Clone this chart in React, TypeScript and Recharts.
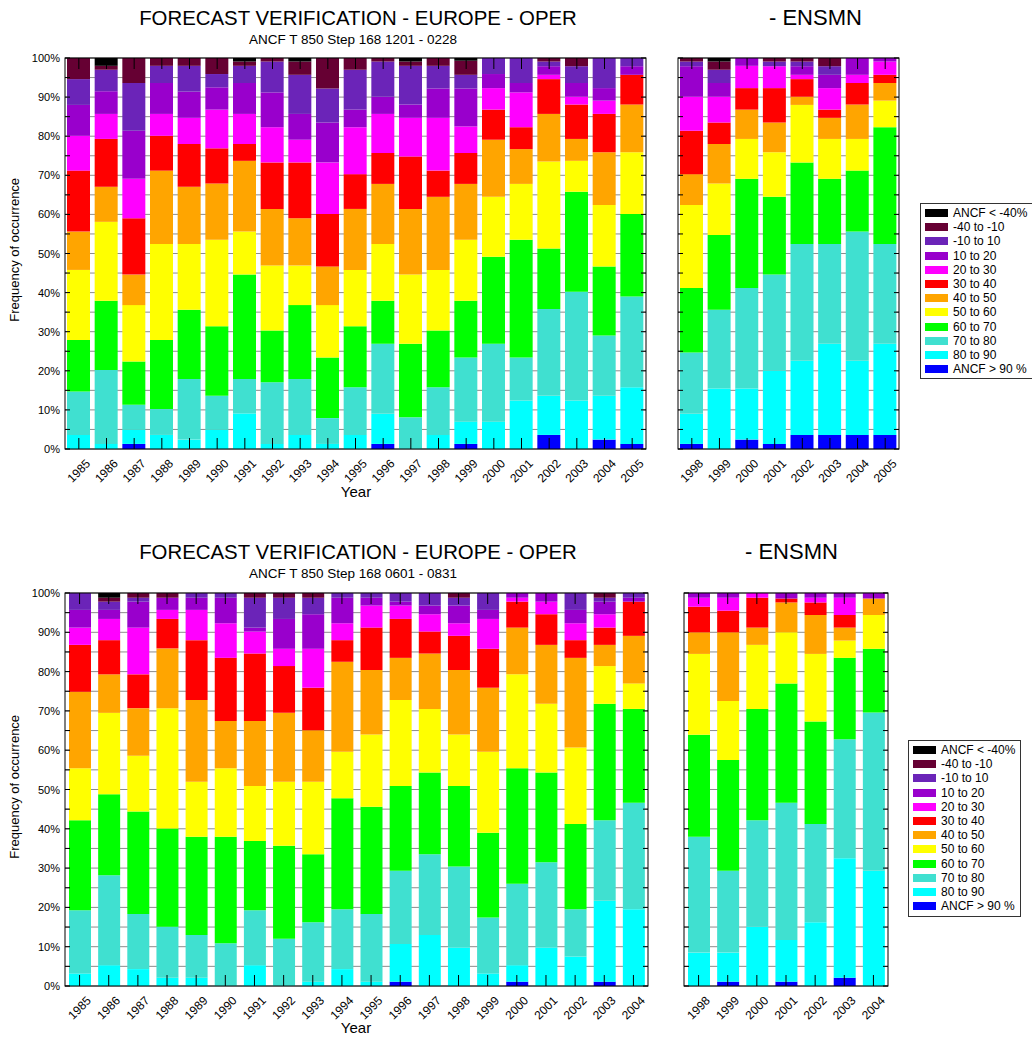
import React from 'react';
import { BarChart, Bar, XAxis, YAxis, CartesianGrid } from 'recharts';

const FONT = '"Liberation Sans", Arial, sans-serif';

// Legend order (top of stack first)
const LEGEND_LABELS = ['ANCF < -40%', '-40 to -10', '-10 to 10', '10 to 20', '20 to 30', '30 to 40', '40 to 50', '50 to 60', '60 to 70', '70 to 80', '80 to 90', 'ANCF > 90 %'];
const SERIES_KEYS = ['lt40', 'm40m10', 'm10p10', 'p10p20', 'p20p30', 'p30p40', 'p40p50', 'p50p60', 'p60p70', 'p70p80', 'p80p90', 'gt90'];
const SERIES_COLORS = ['#000000', '#660033', '#6b24b8', '#9900cc', '#ff00ff', '#ff0000', '#ffa500', '#ffff00', '#00ff00', '#40e0d0', '#00ffff', '#0000ff'];

const Y_TICKS = [0, 0.05, 0.1, 0.15, 0.2, 0.25, 0.3, 0.35, 0.4, 0.45, 0.5, 0.55, 0.6, 0.65, 0.7, 0.75, 0.8, 0.85, 0.9, 0.95, 1];

// ---------- Winter (1201 - 0228), OPER ----------
const W_OPER_YEARS = ['1985', '1986', '1987', '1988', '1989', '1990', '1991', '1992', '1993', '1994', '1995', '1996', '1997', '1998', '1999', '2000', '2001', '2002', '2003', '2004', '2005'];
const W_OPER_LT40 = [0, 2.0, 0, 0, 0, 0, 0.9, 0, 0.9, 0, 0, 0, 0.9, 0, 0.7, 0, 0, 0, 0, 0, 0];
const W_OPER_M40 = [5.4, 1.0, 6.4, 2.0, 2.0, 4.1, 1.1, 0.9, 3.4, 7.8, 3.0, 0.9, 1.1, 2.0, 3.6, 0, 0, 0.9, 2.1, 0, 0];
const W_OPER_M10 = [6.6, 5.5, 12.2, 4.4, 6.6, 3.4, 4.4, 7.9, 10.0, 8.7, 10.2, 9.0, 9.9, 5.8, 3.5, 4.1, 6.4, 1.2, 4.3, 7.7, 2.1];
const W_OPER_P10 = [7.9, 5.8, 12.3, 7.9, 6.7, 5.7, 7.9, 8.9, 6.6, 10.2, 4.5, 4.4, 3.4, 7.5, 9.7, 3.6, 2.4, 2.2, 3.5, 3.2, 2.2];
const W_OPER_P20 = [8.9, 6.4, 10.1, 5.6, 6.7, 9.9, 7.7, 9.0, 5.8, 13.2, 12.0, 10.0, 9.9, 13.5, 6.8, 5.5, 8.9, 1.1, 2.0, 3.4, 0];
const W_OPER_P30 = [15.6, 12.2, 14.4, 8.9, 10.9, 9.0, 4.3, 11.9, 14.3, 13.4, 8.9, 7.9, 13.4, 6.7, 7.9, 7.7, 5.6, 8.9, 8.8, 9.8, 7.6];
const W_OPER_P40 = [9.8, 9.0, 7.8, 18.8, 14.7, 14.4, 18.1, 14.5, 12.1, 9.9, 15.6, 15.4, 16.8, 18.7, 14.3, 14.6, 8.9, 12.2, 5.6, 13.5, 12.2];
const W_OPER_P50 = [17.9, 20.2, 14.4, 24.5, 16.8, 22.1, 11.0, 16.6, 10.1, 13.4, 14.4, 14.5, 17.7, 15.5, 15.6, 15.3, 14.3, 22.2, 7.9, 15.7, 15.8];
const W_OPER_P60 = [13.2, 17.7, 11.1, 17.7, 17.7, 17.8, 26.7, 13.2, 18.9, 15.5, 15.6, 11.0, 18.8, 14.5, 14.5, 22.3, 30.1, 15.5, 25.6, 17.7, 21.1];
const W_OPER_P70 = [11.1, 18.9, 6.4, 6.6, 15.5, 8.7, 8.8, 15.8, 14.3, 6.6, 12.2, 17.9, 8.1, 12.2, 16.4, 19.9, 11.0, 22.2, 27.8, 15.4, 23.2];
const W_OPER_P80 = [3.6, 1.3, 3.6, 3.6, 2.4, 4.9, 9.1, 1.3, 3.6, 1.3, 3.6, 7.7, 0, 3.6, 5.7, 7.0, 12.4, 10.0, 12.4, 11.2, 14.5];
const W_OPER_GT90 = [0, 0, 1.3, 0, 0, 0, 0, 0, 0, 0, 0, 1.3, 0, 0, 1.3, 0, 0, 3.6, 0, 2.4, 1.3];

// ---------- Winter (1201 - 0228), ENSMN ----------
const W_ENS_YEARS = ['1998', '1999', '2000', '2001', '2002', '2003', '2004', '2005'];
const W_ENS_LT40 = [0, 0.9, 0, 0, 0, 0, 0, 0];
const W_ENS_M40 = [0.9, 2.1, 0, 0.9, 0.9, 2.1, 0, 0];
const W_ENS_M10 = [1.2, 3.4, 0, 1.2, 1.2, 2.2, 0, 0];
const W_ENS_P10 = [7.8, 3.5, 2.0, 0, 2.2, 3.4, 4.3, 0.9];
const W_ENS_P20 = [8.7, 6.6, 5.7, 5.6, 1.1, 5.5, 2.1, 3.4];
const W_ENS_P30 = [11.1, 5.5, 5.5, 8.8, 4.5, 2.1, 5.5, 2.1];
const W_ENS_P40 = [7.9, 10.1, 7.5, 7.6, 2.1, 5.4, 8.8, 4.5];
const W_ENS_P50 = [21.2, 13.2, 10.2, 11.4, 14.7, 10.2, 8.1, 6.8];
const W_ENS_P60 = [16.5, 19.1, 27.9, 19.9, 20.9, 16.7, 15.6, 29.9];
const W_ENS_P70 = [15.7, 20.1, 25.7, 24.6, 29.8, 25.5, 33.0, 25.5];
const W_ENS_P80 = [7.7, 15.5, 13.1, 18.7, 19.0, 23.3, 19.0, 23.3];
const W_ENS_GT90 = [1.3, 0, 2.4, 1.3, 3.6, 3.6, 3.6, 3.6];

// ---------- Summer (0601 - 0831), OPER ----------
const S_OPER_YEARS = ['1985', '1986', '1987', '1988', '1989', '1990', '1991', '1992', '1993', '1994', '1995', '1996', '1997', '1998', '1999', '2000', '2001', '2002', '2003', '2004'];
const S_OPER_LT40 = [0, 1.2, 0, 0, 0, 0, 0, 0, 0, 0, 0, 0, 0, 0, 0, 0, 0, 0, 0, 0];
const S_OPER_M40 = [0, 1.0, 1.2, 1.2, 0, 0, 1.2, 1.2, 1.2, 0, 0, 0, 0, 1.2, 0, 0, 0, 0, 1.2, 0];
const S_OPER_M10 = [4.3, 2.1, 1.0, 0, 1.2, 1.2, 7.6, 5.4, 4.2, 1.2, 1.2, 2.2, 3.2, 2.0, 4.3, 0, 0, 4.3, 1.0, 1.2];
const S_OPER_P10 = [4.5, 2.3, 6.6, 3.1, 3.1, 6.5, 1.0, 7.6, 8.8, 6.5, 2.0, 1.0, 2.2, 4.5, 2.3, 1.2, 2.2, 3.4, 3.2, 1.0];
const S_OPER_P20 = [4.4, 5.4, 11.9, 2.3, 7.7, 8.8, 5.6, 4.4, 9.9, 4.3, 5.6, 3.4, 4.4, 3.2, 7.6, 1.0, 3.2, 4.3, 3.4, 0];
const S_OPER_P30 = [11.9, 8.7, 8.6, 7.5, 15.2, 16.1, 17.2, 11.9, 10.8, 5.5, 10.8, 9.9, 5.6, 8.7, 9.9, 6.6, 7.8, 4.5, 4.4, 8.7];
const S_OPER_P40 = [19.5, 9.8, 12.1, 15.2, 20.8, 12.0, 16.5, 17.5, 13.1, 22.9, 16.4, 10.7, 14.1, 16.4, 16.3, 11.9, 15.0, 22.8, 5.4, 12.1];
const S_OPER_P50 = [13.2, 20.7, 14.2, 30.6, 14.0, 17.4, 14.0, 16.3, 18.5, 11.8, 18.4, 21.9, 16.2, 13.1, 20.6, 23.9, 17.5, 19.5, 9.6, 6.5];
const S_OPER_P60 = [22.9, 20.6, 26.1, 25.0, 25.0, 27.1, 17.6, 23.7, 17.3, 28.3, 27.3, 21.6, 20.8, 20.5, 21.6, 29.4, 22.8, 21.7, 29.6, 23.9];
const S_OPER_P70 = [16.1, 22.9, 14.0, 13.0, 10.9, 10.9, 14.0, 12.0, 15.1, 15.2, 17.2, 18.6, 20.5, 20.6, 14.2, 20.7, 21.7, 12.0, 20.5, 27.1];
const S_OPER_P80 = [3.2, 5.3, 4.3, 2.1, 2.1, 0, 5.3, 0, 1.1, 4.3, 1.1, 9.6, 13.0, 9.8, 3.2, 4.2, 9.8, 7.5, 20.6, 19.5];
const S_OPER_GT90 = [0, 0, 0, 0, 0, 0, 0, 0, 0, 0, 0, 1.1, 0, 0, 0, 1.1, 0, 0, 1.1, 0];

// ---------- Summer (0601 - 0831), ENSMN ----------
const S_ENS_YEARS = ['1998', '1999', '2000', '2001', '2002', '2003', '2004'];
const S_ENS_LT40 = [0, 0, 0, 0, 0, 0, 0];
const S_ENS_M40 = [0, 0, 0, 0, 0, 0, 0];
const S_ENS_M10 = [0, 0, 0, 0, 0, 0, 0];
const S_ENS_P10 = [1.2, 1.2, 0, 1.4, 1.2, 1.2, 1.4];
const S_ENS_P20 = [2.3, 3.3, 1.2, 0, 1.2, 4.4, 0];
const S_ENS_P30 = [6.5, 5.5, 7.6, 1.0, 3.2, 3.2, 0];
const S_ENS_P40 = [5.5, 17.5, 4.4, 7.6, 9.9, 3.3, 4.2];
const S_ENS_P50 = [20.6, 15.0, 16.3, 13.0, 17.2, 4.4, 8.6];
const S_ENS_P60 = [25.9, 28.2, 28.3, 30.4, 26.1, 20.7, 16.2];
const S_ENS_P70 = [29.5, 20.8, 27.1, 34.9, 25.0, 30.3, 40.3];
const S_ENS_P80 = [8.5, 7.4, 15.1, 10.6, 16.2, 30.4, 29.3];
const S_ENS_GT90 = [0, 1.1, 0, 1.1, 0, 2.1, 0];

type Row = { [k: string]: string | number };

function buildRows(years: string[], series: number[][]): Row[] {
  return years.map((year, i) => {
    const row: Row = { year };
    SERIES_KEYS.forEach((key, s) => {
      row[key] = series[s][i];
    });
    return row;
  });
}

const W_OPER_ROWS = buildRows(W_OPER_YEARS, [W_OPER_LT40, W_OPER_M40, W_OPER_M10, W_OPER_P10, W_OPER_P20, W_OPER_P30, W_OPER_P40, W_OPER_P50, W_OPER_P60, W_OPER_P70, W_OPER_P80, W_OPER_GT90]);
const W_ENS_ROWS = buildRows(W_ENS_YEARS, [W_ENS_LT40, W_ENS_M40, W_ENS_M10, W_ENS_P10, W_ENS_P20, W_ENS_P30, W_ENS_P40, W_ENS_P50, W_ENS_P60, W_ENS_P70, W_ENS_P80, W_ENS_GT90]);
const S_OPER_ROWS = buildRows(S_OPER_YEARS, [S_OPER_LT40, S_OPER_M40, S_OPER_M10, S_OPER_P10, S_OPER_P20, S_OPER_P30, S_OPER_P40, S_OPER_P50, S_OPER_P60, S_OPER_P70, S_OPER_P80, S_OPER_GT90]);
const S_ENS_ROWS = buildRows(S_ENS_YEARS, [S_ENS_LT40, S_ENS_M40, S_ENS_M10, S_ENS_P10, S_ENS_P20, S_ENS_P30, S_ENS_P40, S_ENS_P50, S_ENS_P60, S_ENS_P70, S_ENS_P80, S_ENS_GT90]);

// stacking order: bottom (ANCF > 90 %) first
const STACK_ORDER = [11, 10, 9, 8, 7, 6, 5, 4, 3, 2, 1, 0];

type ChartProps = {
  rows: Row[];
  left: number;
  top: number;
  plotLeft: number;
  plotTop: number;
  plotW: number;
  plotH: number;
  barSize: number;
  showYLabels: boolean;
};

function StackChart({ rows, left, top, plotLeft, plotTop, plotW, plotH, barSize, showYLabels }: ChartProps) {
  const rightPad = 10;
  const xAxisH = 60;
  const width = plotLeft + plotW + rightPad;
  const height = plotTop + plotH + xAxisH;

  const yTick = (props: any) => {
    const { x, y, payload, index } = props;
    const pct = Math.round(payload.value * 100);
    const major = pct % 10 === 0;
    return (
      <g>
        {index === 0 && (
          <rect x={x} y={y - plotH} width={plotW} height={plotH} fill="none" stroke="#000" strokeWidth={1} />
        )}
        <line x1={x} x2={x + 5} y1={y} y2={y} stroke="#000" strokeWidth={1} />
        <line x1={x + plotW - 5} x2={x + plotW} y1={y} y2={y} stroke="#000" strokeWidth={1} />
        {showYLabels && major && (
          <text x={x - 5} y={y} dy={4} textAnchor="end" fontSize={11} fill="#000" fontFamily={FONT}>
            {pct}%
          </text>
        )}
      </g>
    );
  };

  const xTick = (props: any) => {
    const { x, y, payload } = props;
    const ly = y + 22;
    return (
      <g>
        <line x1={x} x2={x} y1={y} y2={y - 11} stroke="#000" strokeWidth={1} />
        <line x1={x} x2={x} y1={y - plotH} y2={y - plotH + 11} stroke="#000" strokeWidth={1} />
        <text
          x={x}
          y={ly}
          textAnchor="middle"
          dominantBaseline="central"
          transform={`rotate(-45 ${x} ${ly})`}
          fontSize={12}
          fill="#000"
          fontFamily={FONT}
        >
          {payload.value}
        </text>
      </g>
    );
  };

  return (
    <div style={{ position: 'absolute', left, top, width, height }}>
      <BarChart
        width={width}
        height={height}
        data={rows}
        stackOffset="expand"
        margin={{ top: plotTop, right: rightPad, bottom: 0, left: 0 }}
      >
        <CartesianGrid vertical={false} stroke="#8c8c8c" strokeWidth={1} />
        {STACK_ORDER.map((s) => (
          <Bar
            key={SERIES_KEYS[s]}
            dataKey={SERIES_KEYS[s]}
            name={LEGEND_LABELS[s]}
            stackId="a"
            fill={SERIES_COLORS[s]}
            barSize={barSize}
            isAnimationActive={false}
          />
        ))}
        <XAxis
          dataKey="year"
          interval={0}
          tickSize={0}
          tickMargin={0}
          axisLine={false}
          height={xAxisH}
          tick={xTick}
        />
        <YAxis
          type="number"
          domain={[0, 1]}
          ticks={Y_TICKS}
          interval={0}
          width={plotLeft}
          tickSize={0}
          tickMargin={0}
          axisLine={false}
          tick={yTick}
        />
      </BarChart>
    </div>
  );
}

function LegendBox({ left, top, width, height }: { left: number; top: number; width: number; height: number }) {
  return (
    <div
      style={{
        position: 'absolute',
        left,
        top,
        width,
        height,
        border: '1px solid #333',
        boxSizing: 'border-box',
        background: '#fff',
        fontFamily: FONT,
      }}
    >
      {LEGEND_LABELS.map((label, i) => (
        <div
          key={label}
          style={{ position: 'absolute', left: 4, top: 2 + i * 14.2, height: 14, display: 'flex', alignItems: 'center' }}
        >
          <div style={{ width: 23, height: 8, background: SERIES_COLORS[i] }} />
          <span style={{ marginLeft: 5, fontSize: 12, lineHeight: '14px', color: '#000', whiteSpace: 'nowrap' }}>{label}</span>
        </div>
      ))}
    </div>
  );
}

function Text({ x, y, size, children, align = 'center', w = 600 }: { x: number; y: number; size: number; children: React.ReactNode; align?: 'center' | 'left'; w?: number }) {
  const left = align === 'center' ? x - w / 2 : x;
  return (
    <div
      style={{
        position: 'absolute',
        left,
        top: y - size * 0.6,
        width: w,
        textAlign: align,
        fontSize: size,
        lineHeight: `${size * 1.2}px`,
        fontFamily: FONT,
        color: '#000',
        whiteSpace: 'nowrap',
      }}
    >
      {children}
    </div>
  );
}

function VText({ x, y, size, children }: { x: number; y: number; size: number; children: React.ReactNode }) {
  return (
    <div
      style={{
        position: 'absolute',
        left: x - 150,
        top: y - size * 0.6,
        width: 300,
        textAlign: 'center',
        fontSize: size,
        lineHeight: `${size * 1.2}px`,
        fontFamily: FONT,
        color: '#000',
        transform: 'rotate(-90deg)',
        transformOrigin: '150px 50%',
        whiteSpace: 'nowrap',
      }}
    >
      {children}
    </div>
  );
}

export default function App() {
  return (
    <div style={{ position: 'absolute', left: 0, top: 0, width: 1032, height: 1039, background: '#fff', overflow: 'hidden' }}>
      <StackChart rows={W_OPER_ROWS} left={0} top={0} plotLeft={65} plotTop={58} plotW={581} plotH={391} barSize={23} showYLabels />
      <StackChart rows={W_ENS_ROWS} left={668} top={0} plotLeft={10} plotTop={58} plotW={221} plotH={391} barSize={23} showYLabels={false} />
      <StackChart rows={S_OPER_ROWS} left={0} top={535} plotLeft={65} plotTop={58} plotW={583} plotH={393} barSize={22} showYLabels />
      <StackChart rows={S_ENS_ROWS} left={674} top={535} plotLeft={10} plotTop={58} plotW={204} plotH={393} barSize={22} showYLabels={false} />

      <Text x={358} y={18} size={20.4}>FORECAST VERIFICATION - EUROPE - OPER</Text>
      <Text x={353} y={40} size={13.5}>ANCF T 850 Step 168 1201 - 0228</Text>
      <Text x={769} y={18} size={22} align="left" w={200}>- ENSMN</Text>
      <Text x={356} y={492} size={15}>Year</Text>
      <VText x={15} y={250} size={13}>Frequency of occurrence</VText>

      <Text x={358} y={552} size={20.4}>FORECAST VERIFICATION - EUROPE - OPER</Text>
      <Text x={353} y={574} size={13.5}>ANCF T 850 Step 168 0601 - 0831</Text>
      <Text x={745} y={552} size={22} align="left" w={200}>- ENSMN</Text>
      <Text x={356} y={1028} size={15}>Year</Text>
      <VText x={15} y={787} size={13}>Frequency of occurrence</VText>

      <LegendBox left={920} top={203} width={113} height={176} />
      <LegendBox left={908} top={740} width={113} height={177} />
    </div>
  );
}
